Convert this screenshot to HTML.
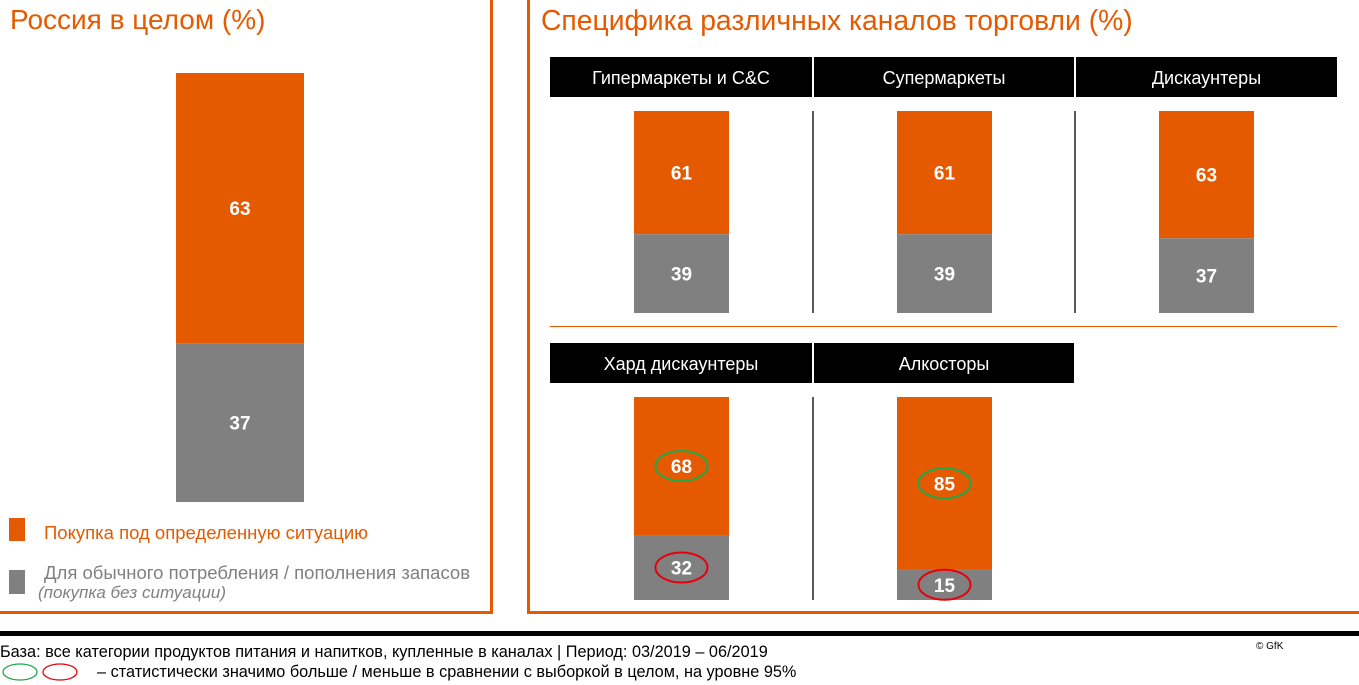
<!DOCTYPE html>
<html><head><meta charset="utf-8">
<style>
body{margin:0;width:1359px;height:685px;overflow:hidden;background:#fff;font-family:"Liberation Sans","Noto Sans CJK SC",sans-serif;position:relative}
.abs{position:absolute;white-space:nowrap}
</style></head><body>
<div class="abs" style="left:10px;top:4px;font-size:28px;color:#E55A00">Россия в целом (%)</div>
<div class="abs" style="left:541px;top:4px;font-size:28.3px;color:#E55A00">Специфика различных каналов торговли (%)</div>
<div class="abs" style="left:490px;top:0;width:3px;height:614px;background:#E55A00"></div>
<div class="abs" style="left:0;top:611px;width:493px;height:3px;background:#E55A00"></div>
<div class="abs" style="left:527px;top:0;width:3px;height:614px;background:#E55A00"></div>
<div class="abs" style="left:527px;top:611px;width:832px;height:3px;background:#E55A00"></div>
<div class="abs" style="left:550px;top:326px;width:787px;height:1px;background:#E55A00"></div>
<div class="abs" style="left:0;top:631px;width:1359px;height:5px;background:#000"></div>
<div class="abs" style="left:0;top:643px;font-size:16.3px;color:#000">База: все категории продуктов питания и напитков, купленные в каналах | Период: 03/2019 – 06/2019</div>
<div class="abs" style="left:97px;top:663px;font-size:16.3px;color:#000">– статистически значимо больше / меньше в сравнении с выборкой в целом, на уровне 95%</div>
<div class="abs" style="left:1256px;top:641px;font-size:10px;color:#000">© GfK</div>
<svg class="abs" style="left:0;top:660px" width="90" height="25">
<ellipse cx="20" cy="12" rx="17" ry="8" fill="none" stroke="#1FA84A" stroke-width="1.3"/>
<ellipse cx="60" cy="12" rx="17" ry="8" fill="none" stroke="#E8000B" stroke-width="1.3"/>
</svg>
<div class="abs" style="left:9px;top:518px;width:16px;height:23px;background:#E55A00"></div>
<div class="abs" style="left:44px;top:522px;font-size:18.5px;color:#E55A00">Покупка под определенную ситуацию</div>
<div class="abs" style="left:9px;top:570px;width:16px;height:24px;background:#808080"></div>
<div class="abs" style="left:44px;top:563px;font-size:18.5px;color:#808080;line-height:19px">Для обычного потребления / пополнения запасов<br><i style="margin-left:-6px;font-size:17px">(покупка без ситуации)</i></div>
<svg id="chart" class="abs" style="left:0;top:0" width="1359" height="685"></svg>
<script>
const channels=["Гипермаркеты и C&C","Супермаркеты","Дискаунтеры","Хард дискаунтеры","Алкосторы"];
const situation=[61,61,63,68,85];
const regular=[39,39,37,32,15];
const sigSituation=["","","","up","up"];
const sigRegular=["","","","down","down"];
const totalSituation=[63];
const totalRegular=[37];
const NS="http://www.w3.org/2000/svg";
const svg=document.getElementById('chart');
const OR="#E55A00",GR="#808080";
function mk(t,a){const e=document.createElementNS(NS,t);for(const k in a)e.setAttribute(k,a[k]);svg.appendChild(e);return e;}
function bar(x,w,top,bot,s,r,name,sigS,sigR){
  const y=v=>bot-(bot-top)*v/100;
  const split=y(r);
  let e=mk('rect',{x:x,y:top,width:w,height:split-top,fill:OR});
  
  
  e=mk('rect',{x:x,y:split,width:w,height:bot-split,fill:GR});
  
  
  const cx=x+w/2,c1=(top+split)/2,c2=(split+bot)/2;
  [[s,c1,sigS],[r,c2,sigR]].forEach(([v,cy,sg],i)=>{
    const t=mk('text',{x:cx,y:cy+7,'text-anchor':'middle',fill:'#fff','font-size':19,'font-weight':'bold','font-family':'Liberation Sans, sans-serif'});
    t.textContent=v;
    
    
    if(sg){const el=mk('ellipse',{cx:cx,cy:cy,rx:26,ry:15,fill:'none',stroke:sg=='up'?'#1FA84A':'#E8000B','stroke-width':2});
      
      }
  });
}
bar(176,128,73,502,totalSituation[0],totalRegular[0],'russia-total-bar','','');
const cols=[550,814,1076],colW=[262,260,261];
channels.forEach((c,i)=>{
  const row=i<3?0:1,col=i%3;
  const hx=cols[col],hy=row?343:57;
  const h=mk('rect',{x:hx,y:hy,width:colW[col],height:40,fill:'#000'});
  
  
  const t=mk('text',{x:hx+colW[col]/2,y:hy+27,'text-anchor':'middle',fill:'#fff','font-size':18,'font-family':'Liberation Sans, sans-serif'});
  t.textContent=c;
  
  
  const bx=hx+84-(col?1:0);
  const top=row?397:111,bot=row?600:313;
  bar(bx,95,top,bot,situation[i],regular[i],'channel-bar-'+(i+1),sigSituation[i],sigRegular[i]);
  if(col>0){const l=mk('line',{x1:hx-1,x2:hx-1,y1:top,y2:bot,stroke:'#000','stroke-width':1.3});
    
    }
});
</script>
</body></html>
